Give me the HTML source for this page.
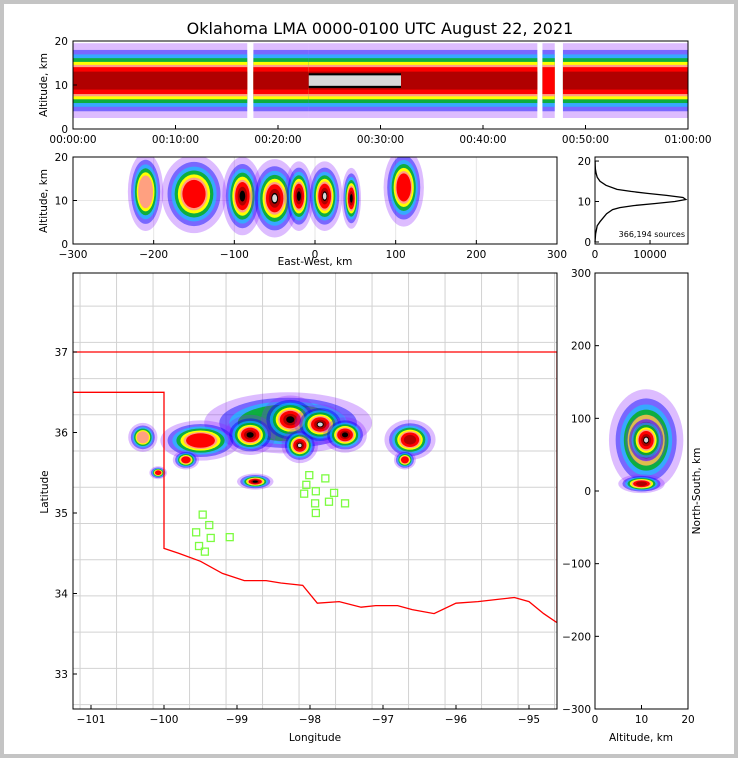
<!DOCTYPE html>
<html><head><meta charset="utf-8"><style>
body{margin:0;background:#c4c4c4;}
svg{display:block;font-family:"DejaVu Sans","Liberation Sans",sans-serif;}
</style></head><body>
<svg id="s" width="738" height="758" xmlns="http://www.w3.org/2000/svg">
<rect x="0" y="0" width="738" height="758" fill="#c4c4c4"/>
<rect x="4" y="4" width="730" height="750" fill="#fff"/>
<text x="380" y="34" font-size="16" text-anchor="middle">Oklahoma LMA 0000-0100 UTC August 22, 2021</text>
<g id="g"></g>
</svg>
<script>
// ---------- data ----------
const timeTicks = ["00:00:00","00:10:00","00:20:00","00:30:00","00:40:00","00:50:00","01:00:00"];
const segStart = [0, 17.6, 23, 32, 45.8, 47.8];
const segEnd   = [17, 23, 32, 45.3, 47, 60];
const segLevel = [7, 7, 9, 7, 6, 7];
const ewX   = [-210, -150, -90, -50, -20, 12, 45, 110];
const ewAlt = [12, 11.5, 11, 10.5, 11, 11, 10.5, 13];
const ewRx  = [22, 40, 25, 30, 18, 22, 12, 25];
const ewRy  = [9, 9, 9, 9, 8, 8, 7, 9];
const ewLvl = [5, 6, 8, 9, 8, 9, 8, 6];
const cLon = [-98.3, -100.29, -99.5, -99.7, -98.82, -98.27, -98.14, -97.86, -97.52, -98.75, -100.08, -96.63, -96.7];
const cLat = [36.12, 35.94, 35.9, 35.66, 35.97, 36.16, 35.84, 36.1, 35.97, 35.39, 35.5, 35.91, 35.66];
const cRx  = [1.15, 0.2, 0.55, 0.18, 0.35, 0.4, 0.25, 0.35, 0.3, 0.25, 0.12, 0.35, 0.15];
const cRy  = [0.38, 0.18, 0.25, 0.12, 0.25, 0.3, 0.22, 0.25, 0.22, 0.1, 0.08, 0.25, 0.12];
const cLvl = [3, 5, 6, 6, 8, 8, 9, 9, 8, 8, 6, 7, 6];
const nsAlt = [11, 10, 11];
const nsY   = [70, 10, 70];
const nsRx  = [8, 5, 4.5];
const nsRy  = [70, 13, 35];
const nsLvl = [6, 7, 9];
const hAlt = [0,2,4,5,6,7,8,8.5,9,9.5,10,10.5,11,11.5,12,12.5,13,14,15,16,17,18,19,20];
const hCnt = [0,100,400,900,1500,2100,3200,4500,7000,11000,14500,16500,16000,13000,9500,6500,4000,2000,900,400,200,80,30,10];
const stLon = [-98.01,-97.79,-98.05,-97.92,-97.67,-98.08,-97.93,-97.74,-97.52,-97.92,-99.47,-99.38,-99.56,-99.36,-99.10,-99.52,-99.44];
const stLat = [35.47,35.43,35.35,35.27,35.25,35.24,35.12,35.14,35.12,35.00,34.98,34.85,34.76,34.69,34.70,34.59,34.52];
const rrLon = [-100,-99.8,-99.5,-99.2,-98.9,-98.6,-98.4,-98.1,-97.9,-97.6,-97.3,-97.1,-96.8,-96.6,-96.3,-96,-95.7,-95.4,-95.2,-95,-94.8,-94.62];
const rrLat = [34.56,34.5,34.4,34.25,34.16,34.16,34.13,34.1,33.88,33.9,33.83,33.85,33.85,33.8,33.75,33.88,33.9,33.93,33.95,33.9,33.75,33.64];

const colors = ['#9020ff','#0000ff','#00e0ff','#00b000','#ffff00','#ffa080','#ff0000','#b00000','#000000','#d8d8d8'];
const opac   = [0.3,0.45,0.55,0.75,1,1,1,1,1,1];
const frac   = [1,0.82,0.7,0.6,0.5,0.42,0.36,0.24,0.14,0.1];
const NS='http://www.w3.org/2000/svg';
const G=document.getElementById('g');
function el(t,a,p){const e=document.createElementNS(NS,t);for(const k in a)e.setAttribute(k,a[k]);(p||G).appendChild(e);return e;}
function lin(d0,d1,r0,r1){return v=>r0+(v-d0)*(r1-r0)/(d1-d0);}
function clip(id,x,y,w,h){const c=el('clipPath',{id:id});el('rect',{x:x,y:y,width:w,height:h},c);}
function txt(x,y,s,o){const e=el('text',Object.assign({x:x,y:y,'font-size':10.5},o||{}));e.textContent=s;return e;}
function blob(gp,cx,cy,rx,ry,L){for(let k=0;k<=L;k++){const f=frac[k];el('ellipse',{cx:cx,cy:cy,rx:Math.max(rx*f,1),ry:Math.max(ry*f,1),fill:colors[k],'fill-opacity':opac[k]},gp);}}
function frame(x,y,w,h,name){const r=el('rect',{x:x,y:y,width:w,height:h,fill:'none',stroke:'#000','stroke-width':1});}

// ---------- top panel ----------
{const X=lin(0,60,73,688),Y=lin(0,20,129,41);
clip('c1',73,41,615,88);
const gp=el('g',{'clip-path':'url(#c1)'});


for(let i=0;i<segStart.length;i++){const L=segLevel[i];
 for(let k=0;k<=L;k++){const half=8.5*frac[k]*(k>=8?1.4:1);
  const r=el('rect',{x:X(segStart[i]),y:Y(11+half),width:X(segEnd[i])-X(segStart[i]),height:Y(11-half)-Y(11+half),fill:colors[k],'fill-opacity':opac[k]},gp);
  
  }}
frame(73,41,615,88,'time-height-axes');
[0,10,20].forEach(v=>{el('line',{x1:73,x2:77,y1:Y(v),y2:Y(v),stroke:'#000'});txt(68,Y(v)+4,v,{'text-anchor':'end'});});
timeTicks.forEach((t,i)=>{const x=X(i*10);el('line',{x1:x,x2:x,y1:129,y2:125,stroke:'#000'});txt(x,143,t,{'text-anchor':'middle'});});
const yl=txt(47,85,'Altitude, km',{'text-anchor':'middle',transform:'rotate(-90 47 85)'});
}

// ---------- EW panel ----------
{const X=lin(-300,300,73,557),Y=lin(0,20,244,157);
[-200,-100,0,100,200].forEach(v=>el('line',{x1:X(v),x2:X(v),y1:157,y2:244,stroke:'#e6e6e6'}));
el('line',{x1:73,x2:557,y1:Y(10),y2:Y(10),stroke:'#e6e6e6'});
clip('c2',73,157,484,87);
const gp=el('g',{'clip-path':'url(#c2)'});


for(let i=0;i<ewX.length;i++)blob(gp,X(ewX[i]),Y(ewAlt[i]),X(ewRx[i])-X(0),Y(0)-Y(ewRy[i]),ewLvl[i]);
frame(73,157,484,87,'ew-height-axes');
[0,10,20].forEach(v=>{el('line',{x1:73,x2:77,y1:Y(v),y2:Y(v),stroke:'#000'});txt(68,Y(v)+4,v,{'text-anchor':'end'});});
[-300,-200,-100,0,100,200,300].forEach(v=>{el('line',{x1:X(v),x2:X(v),y1:244,y2:240,stroke:'#000'});txt(X(v),258,v<0?'\u2212'+(-v):v,{'text-anchor':'middle'});});
txt(315,265,'East-West, km',{'text-anchor':'middle'});
txt(47,201,'Altitude, km',{'text-anchor':'middle',transform:'rotate(-90 47 201)'});}

// ---------- histogram ----------
{const X=lin(0,16900,595,688),Y=lin(-0.5,21,244,157);
const pts=hAlt.map((a,i)=>X(hCnt[i]).toFixed(1)+','+Y(a).toFixed(1)).join(' ');
const p=el('polyline',{points:pts,fill:'none',stroke:'#000','stroke-width':1.3});

frame(595,157,93,87,'histogram-axes');
[0,10,20].forEach(v=>{el('line',{x1:595,x2:599,y1:Y(v),y2:Y(v),stroke:'#000'});txt(591,Y(v)+4,v,{'text-anchor':'end'});});
[0,10000].forEach(v=>{el('line',{x1:X(v),x2:X(v),y1:244,y2:240,stroke:'#000'});txt(X(v),258,v,{'text-anchor':'middle'});});
txt(685,237,'366,194 sources',{'text-anchor':'end','font-size':8});}

// ---------- map ----------
{const X=lin(-101,-95,91,529),Y=lin(33,37,674,352);
clip('c3',73,273,484,436);
const gp=el('g',{'clip-path':'url(#c3)'});


const cg=el('g',{stroke:'#d2d2d2','stroke-width':1,fill:'none'},gp);
for(let lat=32.62;lat<38;lat+=0.45)el('line',{x1:73,x2:557,y1:Y(lat),y2:Y(lat)},cg);
for(let lon=-101.15;lon<-94.5;lon+=0.5)el('line',{x1:X(lon),x2:X(lon),y1:273,y2:709},cg);
for(let i=0;i<cLon.length;i++){const c=el('g',{},gp);
 blob(c,X(cLon[i]),Y(cLat[i]),X(cRx[i])-X(0),Y(0)-Y(cRy[i]),cLvl[i]);}
const bpts=[[-101.3,37],[-94.5,37]].map(p=>X(p[0])+','+Y(p[1])).join(' ');
el('polyline',{points:bpts,fill:'none',stroke:'#f00','stroke-width':1.3},gp);
const pp=[[-101.3,36.5],[-100,36.5]].concat(rrLon.map((l,i)=>[l,rrLat[i]]));
const bd=el('polyline',{points:pp.map(p=>X(p[0]).toFixed(1)+','+Y(p[1]).toFixed(1)).join(' '),fill:'none',stroke:'#f00','stroke-width':1.3},gp);

el('line',{x1:557,x2:557,y1:Y(37),y2:Y(33.64),stroke:'#f00','stroke-width':1.3},gp);
for(let i=0;i<stLon.length;i++){const r=el('rect',{x:X(stLon[i])-3.5,y:Y(stLat[i])-3.5,width:7,height:7,fill:'none',stroke:'#7cfc40','stroke-width':1.3},gp);
 }
frame(73,273,484,436,'map-axes');
[-101,-100,-99,-98,-97,-96,-95].forEach(v=>{el('line',{x1:X(v),x2:X(v),y1:709,y2:705,stroke:'#000'});txt(X(v),723,'\u2212'+(-v),{'text-anchor':'middle'});});
[33,34,35,36,37].forEach(v=>{el('line',{x1:73,x2:77,y1:Y(v),y2:Y(v),stroke:'#000'});txt(68,Y(v)+4,v,{'text-anchor':'end'});});
txt(315,741,'Longitude',{'text-anchor':'middle'});
txt(48,492,'Latitude',{'text-anchor':'middle',transform:'rotate(-90 48 492)'});}

// ---------- NS panel ----------
{const X=lin(0,20,595,688),Y=lin(-300,300,709,273);
clip('c4',595,273,93,436);
const gp=el('g',{'clip-path':'url(#c4)'});


for(let i=0;i<nsAlt.length;i++)blob(gp,X(nsAlt[i]),Y(nsY[i]),X(nsRx[i])-X(0),Y(0)-Y(nsRy[i]),nsLvl[i]);
frame(595,273,93,436,'ns-height-axes');
[-300,-200,-100,0,100,200,300].forEach(v=>{el('line',{x1:595,x2:599,y1:Y(v),y2:Y(v),stroke:'#000'});txt(591,Y(v)+4,v<0?'\u2212'+(-v):v,{'text-anchor':'end'});});
[0,10,20].forEach(v=>{el('line',{x1:X(v),x2:X(v),y1:709,y2:705,stroke:'#000'});txt(X(v),723,v,{'text-anchor':'middle'});});
txt(641,741,'Altitude, km',{'text-anchor':'middle'});
txt(700,491,'North-South, km',{'text-anchor':'middle',transform:'rotate(-90 700 491)'});}
</script>
</body></html>
